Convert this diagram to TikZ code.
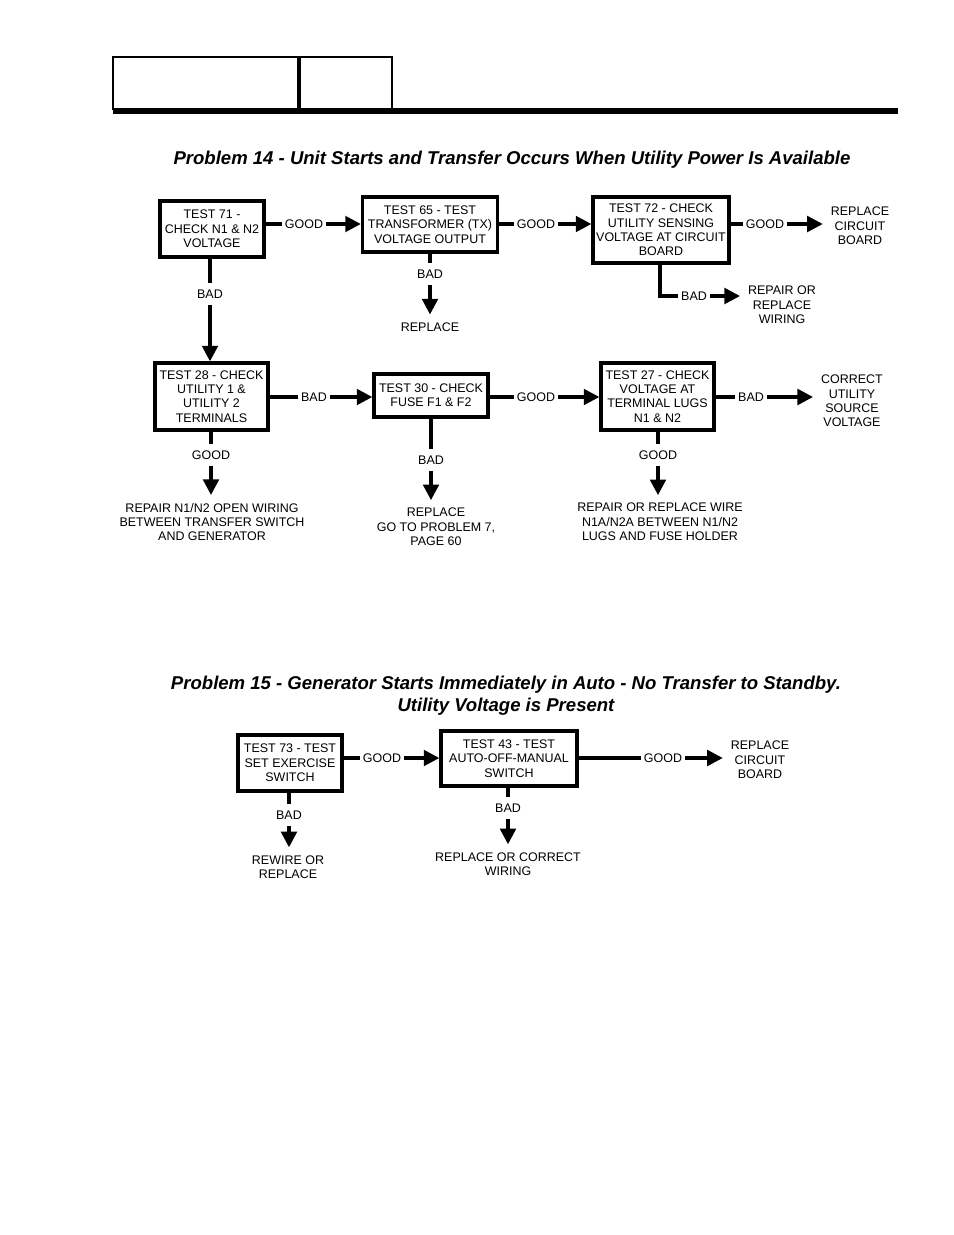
\documentclass[tikz,border=0pt]{standalone}
\usepackage{fontspec}
\setmainfont{Liberation Sans}
\usetikzlibrary{arrows.meta,positioning}

\newcommand{\px}{0.6415pt}
\newcommand{\chartfont}{\fontsize{8}{9.2}\selectfont}

\tikzset{
  testbox/.style={draw, line width=2.1pt, align=center, inner sep=1pt, font=\chartfont},
  lbl/.style={inner xsep=2pt, inner ysep=4pt, font=\chartfont},
  outcome/.style={align=center, inner sep=5pt, font=\chartfont},
  wire/.style={line width=2.1pt},
  arr/.style={wire, -{Triangle[length=10pt,width=10pt]}},
  heading/.style={align=center, font=\fontsize{11.9}{14.3}\selectfont\bfseries\itshape},
}

\begin{document}
\begin{tikzpicture}[x=\px,y=-\px]
  \useasboundingbox (0,0) rectangle (954,1235);

  % Kopfzeile
  \draw[line width=1.3pt] (113,110) |- (298,57) -- (298,110);
  \draw[line width=1.3pt] (300,110) |- (392,57) -- (392,110);
  \fill (113,108) rectangle (898,114);

  % Problem 14
  \node[heading] (title14) at (512,160) {Problem 14 - Unit Starts and Transfer Occurs When Utility Power Is Available};

  \node[testbox, minimum width=104*\px, minimum height=56*\px] (t71) at (212,229) {TEST 71 -\\CHECK N1 \& N2\\VOLTAGE};
  \node[testbox, minimum width=135*\px, minimum height=55*\px] (t65) at (430,224.5) {TEST 65 - TEST\\TRANSFORMER (TX)\\VOLTAGE OUTPUT};
  \node[testbox, minimum width=136*\px, minimum height=66*\px] (t72) at (661,230) {TEST 72 - CHECK\\UTILITY SENSING\\VOLTAGE AT CIRCUIT\\BOARD};
  \node[testbox, minimum width=113*\px, minimum height=67*\px] (t28) at (211.5,396.5) {TEST 28 - CHECK\\UTILITY 1 \&\\UTILITY 2\\TERMINALS};
  \node[testbox, minimum width=114*\px, minimum height=43*\px] (t30) at (431,395.5) {TEST 30 - CHECK\\FUSE F1 \& F2};
  \node[testbox, minimum width=113*\px, minimum height=67*\px] (t27) at (657.5,396.5) {TEST 27 - CHECK\\VOLTAGE AT\\TERMINAL LUGS\\N1 \& N2};

  \node[outcome] (rcb1) at (860,226) {REPLACE\\CIRCUIT\\BOARD};
  \node[outcome] (rrw) at (782,305) {REPAIR OR\\REPLACE\\WIRING};
  \node[outcome] (rep1) at (430,327) {REPLACE};
  \node[outcome] (cusv) at (852,401) {CORRECT\\UTILITY\\SOURCE\\VOLTAGE};
  \node[outcome] (rep2) at (212,522) {REPAIR N1/N2 OPEN WIRING\\BETWEEN TRANSFER SWITCH\\AND GENERATOR};
  \node[outcome] (rep3) at (436,527) {REPLACE\\GO TO PROBLEM 7,\\PAGE 60};
  \node[outcome] (rep4) at (660,522) {REPAIR OR REPLACE WIRE\\N1A/N2A BETWEEN N1/N2\\LUGS AND FUSE HOLDER};

  \node[lbl] (g1) at (304,224) {GOOD};
  \node[lbl] (g2) at (536,224) {GOOD};
  \node[lbl] (g3) at (765,224) {GOOD};
  \node[lbl] (b1) at (210,294) {BAD};
  \node[lbl] (b2) at (430,274) {BAD};
  \node[lbl] (b3) at (694,296) {BAD};
  \node[lbl] (b4) at (314,397) {BAD};
  \node[lbl] (g4) at (536,397) {GOOD};
  \node[lbl] (b5) at (751,397) {BAD};
  \node[lbl] (g5) at (211,455) {GOOD};
  \node[lbl] (b6) at (431,460) {BAD};
  \node[lbl] (g6) at (658,455) {GOOD};

  \draw[wire] (t71.east |- g1) -- (g1);
  \draw[arr] (g1) -- (t65.west |- g1);
  \draw[wire] (t65.east |- g2) -- (g2);
  \draw[arr] (g2) -- (t72.west |- g2);
  \draw[wire] (t72.east |- g3) -- (g3);
  \draw[arr] (g3) -- (rcb1.west |- g3);
  \draw[wire] (t72.south -| 660,0) |- (b3);
  \draw[arr] (b3) -- (rrw.west |- b3);
  \draw[wire] (t65.south) -- (b2);
  \draw[arr] (b2) -- (rep1);
  \draw[wire] (t71.south -| b1) -- (b1);
  \draw[arr] (b1) -- (t28.north -| b1);
  \draw[wire] (t28.east |- b4) -- (b4);
  \draw[arr] (b4) -- (t30.west |- b4);
  \draw[wire] (t30.east |- g4) -- (g4);
  \draw[arr] (g4) -- (t27.west |- g4);
  \draw[wire] (t27.east |- b5) -- (b5);
  \draw[arr] (b5) -- (cusv.west |- b5);
  \draw[wire] (t28.south -| g5) -- (g5);
  \draw[arr] (g5) -- (rep2.north -| g5);
  \draw[wire] (t30.south -| b6) -- (b6);
  \draw[arr] (b6) -- (rep3.north -| b6);
  \draw[wire] (t27.south -| g6) -- (g6);
  \draw[arr] (g6) -- (rep4.north -| g6);

  % Problem 15
  \node[heading] (title15) at (506,696) {Problem 15 - Generator Starts Immediately in Auto - No Transfer to Standby.\\Utility Voltage is Present};

  \node[testbox, minimum width=104*\px, minimum height=56*\px] (t73) at (290,763) {TEST 73 - TEST\\SET EXERCISE\\SWITCH};
  \node[testbox, minimum width=136*\px, minimum height=55*\px] (t43) at (509,758.5) {TEST 43 - TEST\\AUTO-OFF-MANUAL\\SWITCH};

  \node[outcome] (rcb2) at (760,760) {REPLACE\\CIRCUIT\\BOARD};
  \node[outcome] (rwr) at (288,867) {REWIRE OR\\REPLACE};
  \node[outcome] (rcw) at (508,864) {REPLACE OR CORRECT\\WIRING};

  \node[lbl] (g7) at (382,758) {GOOD};
  \node[lbl] (g8) at (663,758) {GOOD};
  \node[lbl] (b7) at (289,815) {BAD};
  \node[lbl] (b8) at (508,808) {BAD};

  \draw[wire] (t73.east |- g7) -- (g7);
  \draw[arr] (g7) -- (t43.west |- g7);
  \draw[wire] (t43.east |- g8) -- (g8);
  \draw[arr] (g8) -- (rcb2.west |- g8);
  \draw[wire] (t73.south -| b7) -- (b7);
  \draw[arr] (b7) -- (rwr.north -| b7);
  \draw[wire] (t43.south -| b8) -- (b8);
  \draw[arr] (b8) -- (rcw.north -| b8);
\end{tikzpicture}
\end{document}
